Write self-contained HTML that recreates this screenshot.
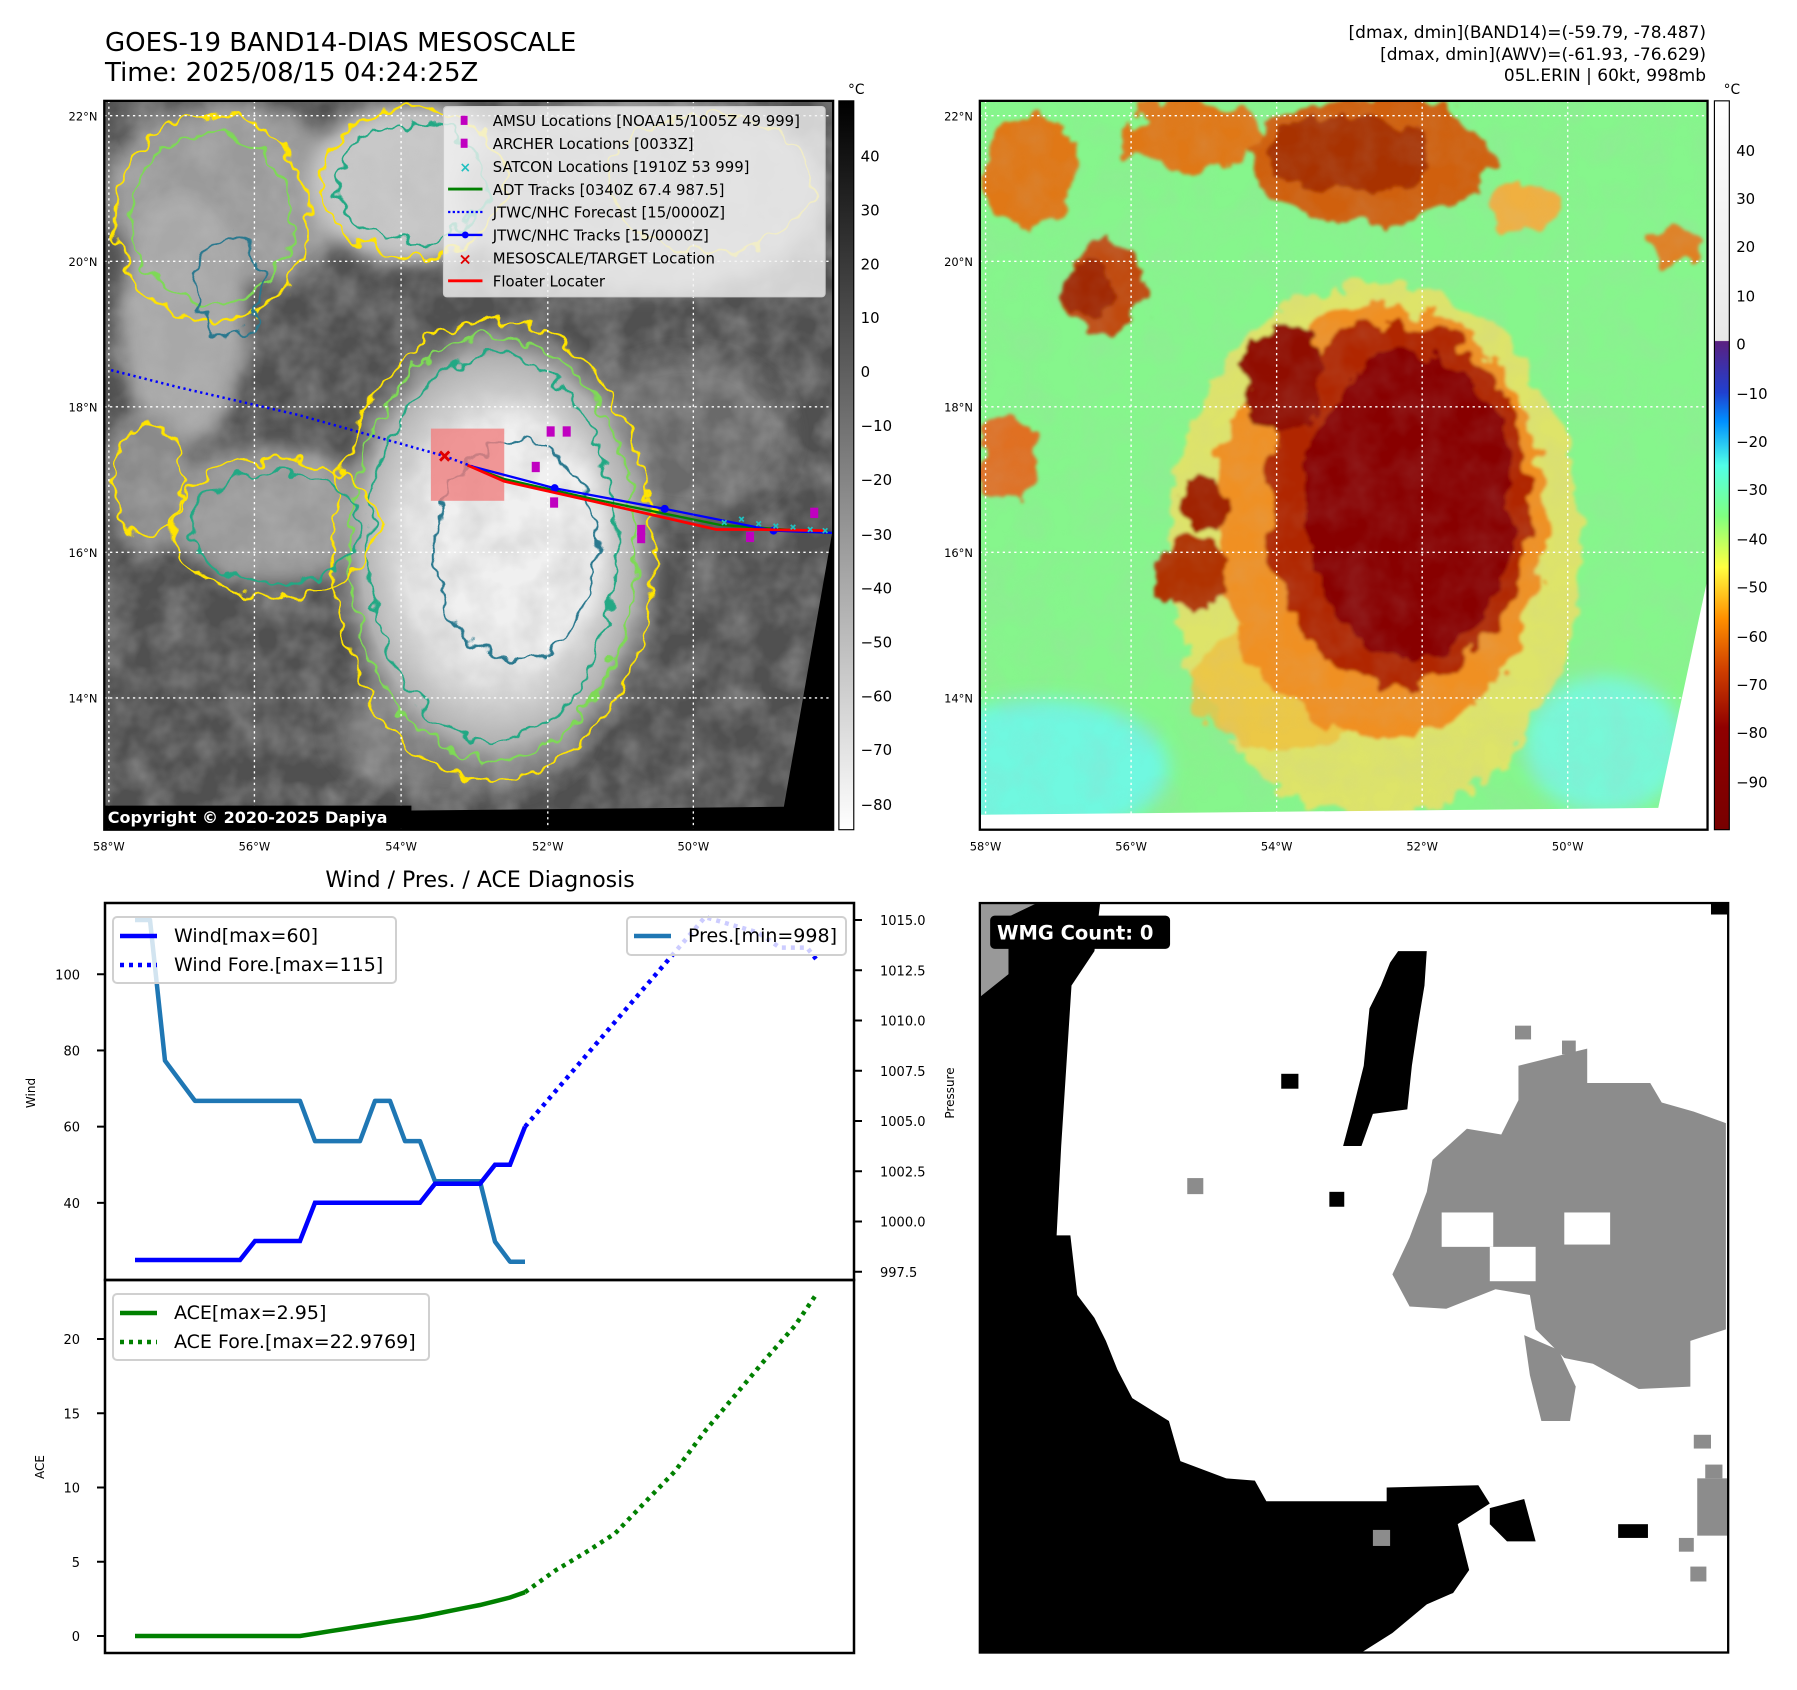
<!DOCTYPE html>
<html><head><meta charset="utf-8">
<style>
html,body{margin:0;padding:0;background:#fff;}
#root{position:relative;width:1797px;height:1690px;overflow:hidden;font-family:"Liberation Sans","DejaVu Sans",sans-serif;}
svg text{font-family:"DejaVu Sans","Liberation Sans",sans-serif;}
</style></head>
<body>
<div id="root">
<svg id="fig" width="1797" height="1690" viewBox="0 0 1797 1690" xmlns="http://www.w3.org/2000/svg">
<defs>
  <filter id="noise" x="0" y="0" width="100%" height="100%">
    <feTurbulence type="fractalNoise" baseFrequency="0.035" numOctaves="3" seed="4"/>
    <feColorMatrix type="matrix" values="0 0 0 0 0.5  0 0 0 0 0.5  0 0 0 0 0.5  1.4 0 0 0 -0.45"/>
  </filter>
  <filter id="blur8"><feGaussianBlur stdDeviation="8"/></filter>
  <filter id="wig" x="-10%" y="-10%" width="120%" height="120%">
    <feTurbulence type="fractalNoise" baseFrequency="0.06" numOctaves="2" seed="7" result="t"/>
    <feDisplacementMap in="SourceGraphic" in2="t" scale="22" xChannelSelector="R" yChannelSelector="G"/>
  </filter>
  <filter id="wig2" x="-10%" y="-10%" width="120%" height="120%">
    <feTurbulence type="fractalNoise" baseFrequency="0.04" numOctaves="3" seed="2" result="t"/>
    <feDisplacementMap in="SourceGraphic" in2="t" scale="30" xChannelSelector="R" yChannelSelector="G"/>
    <feGaussianBlur stdDeviation="1.5"/>
  </filter>
  <clipPath id="clipL"><rect x="91" y="88" width="636" height="636"/></clipPath>
  <clipPath id="clipR"><rect x="855" y="88" width="635" height="636"/></clipPath>
  <clipPath id="clipW"><rect x="855" y="788" width="653" height="654"/></clipPath>
  <linearGradient id="cbL" x1="0" y1="0" x2="0" y2="1">
    <stop offset="0" stop-color="#000"/><stop offset="1" stop-color="#fff"/>
  </linearGradient>
  <linearGradient id="cbR" x1="0" y1="0" x2="0" y2="1">
    <stop offset="0" stop-color="#ffffff"/>
    <stop offset="0.329" stop-color="#e8e8e8"/>
    <stop offset="0.33" stop-color="#5a2080"/>
    <stop offset="0.40" stop-color="#2040d0"/>
    <stop offset="0.44" stop-color="#0090ff"/>
    <stop offset="0.50" stop-color="#50ffe8"/>
    <stop offset="0.57" stop-color="#80ff80"/>
    <stop offset="0.64" stop-color="#ffff40"/>
    <stop offset="0.71" stop-color="#ff9000"/>
    <stop offset="0.78" stop-color="#d04000"/>
    <stop offset="0.86" stop-color="#900000"/>
    <stop offset="1" stop-color="#780000"/>
  </linearGradient>
  <radialGradient id="stormL" cx="0.5" cy="0.5" r="0.5">
    <stop offset="0" stop-color="#f6f6f6"/>
    <stop offset="0.55" stop-color="#e4e4e4"/>
    <stop offset="0.8" stop-color="#b0b0b0"/>
    <stop offset="1" stop-color="#808080" stop-opacity="0"/>
  </radialGradient>
</defs>

<text x="105" y="51" font-size="26" fill="#000">GOES-19 BAND14-DIAS MESOSCALE</text>
<text x="105" y="81" font-size="26" fill="#000">Time: 2025/08/15 04:24:25Z</text>
<g font-size="17" text-anchor="end" fill="#000">
  <text x="1706" y="38">[dmax, dmin](BAND14)=(-59.79, -78.487)</text>
  <text x="1706" y="60">[dmax, dmin](AWV)=(-61.93, -76.629)</text>
  <text x="1706" y="81">05L.ERIN | 60kt, 998mb</text>
</g>

<g transform="scale(1.146)">
 <g clip-path="url(#clipL)">
  <rect x="91" y="88" width="636" height="636" fill="#505050"/>
  <g filter="url(#blur8)">
   <ellipse cx="200" cy="170" rx="110" ry="80" fill="#9a9a9a"/>
   <ellipse cx="160" cy="280" rx="55" ry="110" fill="#a8a8a8"/>
   <ellipse cx="360" cy="160" rx="90" ry="70" fill="#c8c8c8"/>
   <ellipse cx="560" cy="170" rx="160" ry="85" fill="#9c9c9c"/>
   <ellipse cx="240" cy="450" rx="90" ry="60" fill="#9a9a9a"/>
   <ellipse cx="130" cy="420" rx="40" ry="60" fill="#8a8a8a"/>
   <ellipse cx="600" cy="380" rx="90" ry="70" fill="#6a6a6a"/>
   <ellipse cx="400" cy="640" rx="110" ry="55" fill="#747474"/>
  </g>
  <ellipse cx="435" cy="480" rx="150" ry="210" fill="url(#stormL)"/>
  <ellipse cx="450" cy="470" rx="75" ry="110" fill="#f0f0f0" filter="url(#blur8)"/>
  <rect x="91" y="88" width="636" height="636" filter="url(#noise)" opacity="0.55"/>
  <g fill="none" stroke-width="2.2" filter="url(#wig)">
   <ellipse cx="430" cy="480" rx="140" ry="200" stroke="#ffe400"/>
   <ellipse cx="430" cy="478" rx="125" ry="185" stroke="#7ed957"/>
   <ellipse cx="430" cy="478" rx="108" ry="168" stroke="#22a884"/>
   <ellipse cx="450" cy="480" rx="70" ry="95" stroke="#2a788e"/>
   <ellipse cx="185" cy="190" rx="85" ry="90" stroke="#ffe400"/>
   <ellipse cx="185" cy="190" rx="70" ry="75" stroke="#7ed957"/>
   <ellipse cx="200" cy="250" rx="28" ry="45" stroke="#2a788e"/>
   <ellipse cx="360" cy="160" rx="80" ry="65" stroke="#ffe400"/>
   <ellipse cx="360" cy="160" rx="65" ry="52" stroke="#22a884"/>
   <ellipse cx="240" cy="460" rx="90" ry="60" stroke="#ffe400"/>
   <ellipse cx="240" cy="460" rx="75" ry="48" stroke="#22a884"/>
   <ellipse cx="130" cy="420" rx="30" ry="50" stroke="#ffe400"/>
   <ellipse cx="620" cy="160" rx="90" ry="60" stroke="#ffe400" opacity="0.8"/>
  </g>
  <polygon points="727,460 727,724 91,724 91,710 684,704" fill="#000"/>
  <g stroke="#fff" stroke-width="1.2" stroke-dasharray="2,3" fill="none">
   <line x1="95" y1="88" x2="95" y2="724"/><line x1="222" y1="88" x2="222" y2="724"/>
   <line x1="350" y1="88" x2="350" y2="724"/><line x1="478" y1="88" x2="478" y2="724"/>
   <line x1="605" y1="88" x2="605" y2="724"/>
   <line x1="91" y1="101" x2="727" y2="101"/><line x1="91" y1="228" x2="727" y2="228"/>
   <line x1="91" y1="355" x2="727" y2="355"/><line x1="91" y1="482" x2="727" y2="482"/>
   <line x1="91" y1="609" x2="727" y2="609"/>
  </g>
  <rect x="376" y="374" width="64" height="63" fill="#f08080" opacity="0.8"/>
  <polyline points="97,323 156,338 260,362 388,398 420,410" fill="none" stroke="#0000ff" stroke-width="2.2" stroke-dasharray="2,3"/>
  <polyline points="408,406 440,418 520,436 628,458 727,465" fill="none" stroke="#008000" stroke-width="2"/>
  <polyline points="408,406 484,426 580,444 675,463 727,465" fill="none" stroke="#0000ff" stroke-width="2"/>
  <g fill="#0000ff"><circle cx="484" cy="426" r="3.5"/><circle cx="580" cy="444" r="3.5"/><circle cx="675" cy="463" r="3.5"/></g>
  <polyline points="408,406 440,420 520,438 625,462 660,462 720,463" fill="none" stroke="#ff0000" stroke-width="2.4"/>
  <g stroke="#20c0c0" stroke-width="1.5">
   <path d="M630,454 l4,4 m0,-4 l-4,4 M645,451 l4,4 m0,-4 l-4,4 M660,455 l4,4 m0,-4 l-4,4 M675,457 l4,4 m0,-4 l-4,4 M690,458 l4,4 m0,-4 l-4,4 M705,460 l4,4 m0,-4 l-4,4 M718,461 l4,4 m0,-4 l-4,4"/>
  </g>
  <g fill="#c000c0">
   <rect x="477" y="372" width="7" height="9"/><rect x="491" y="372" width="7" height="9"/>
   <rect x="464" y="403" width="7" height="9"/><rect x="480" y="434" width="7" height="9"/>
   <rect x="556" y="458" width="7" height="9"/><rect x="556" y="465" width="7" height="9"/>
   <rect x="651" y="464" width="7" height="9"/><rect x="707" y="443" width="7" height="9"/>
  </g>
  <path d="M384,394 l8,8 m0,-8 l-8,8" stroke="#e00000" stroke-width="2.5"/>
 </g>
 <rect x="91" y="88" width="636" height="636" fill="none" stroke="#000" stroke-width="2"/>
 <g>
  <rect x="387" y="93" width="333" height="166" rx="3" fill="#f2f2f2" fill-opacity="0.8" stroke="#ccc"/>
  <g font-size="13" fill="#000">
   <rect x="402" y="101" width="6" height="8" fill="#c000c0"/><text x="430" y="110">AMSU Locations [NOAA15/1005Z 49 999]</text>
   <rect x="402" y="121" width="6" height="8" fill="#c000c0"/><text x="430" y="130">ARCHER Locations [0033Z]</text>
   <text x="401" y="150" fill="#20c0c0" font-size="12" font-weight="bold">×</text><text x="430" y="150">SATCON Locations [1910Z 53 999]</text>
   <line x1="391" y1="165" x2="421" y2="165" stroke="#008000" stroke-width="2.5"/><text x="430" y="170">ADT Tracks [0340Z 67.4 987.5]</text>
   <line x1="391" y1="185" x2="421" y2="185" stroke="#0000ff" stroke-width="2" stroke-dasharray="2,2"/><text x="430" y="190">JTWC/NHC Forecast [15/0000Z]</text>
   <line x1="391" y1="205" x2="421" y2="205" stroke="#0000ff" stroke-width="2"/><circle cx="406" cy="205" r="3" fill="#0000ff"/><text x="430" y="210">JTWC/NHC Tracks [15/0000Z]</text>
   <text x="400" y="231" fill="#e00000" font-size="14" font-weight="bold">×</text><text x="430" y="230">MESOSCALE/TARGET Location</text>
   <line x1="391" y1="245" x2="421" y2="245" stroke="#ff0000" stroke-width="2.5"/><text x="430" y="250">Floater Locater</text>
  </g>
 </g>
 <rect x="91" y="703" width="268" height="20" fill="#000"/>
 <text x="94" y="718" font-size="14" font-weight="bold" fill="#fff">Copyright © 2020-2025 Dapiya</text>
 <rect x="732" y="88" width="13" height="636" fill="url(#cbL)" stroke="#000" stroke-width="1"/>
 <text x="740" y="82" font-size="12">°C</text>
 <g font-size="13" fill="#000">
  <text x="751" y="141">40</text><text x="751" y="188">30</text><text x="751" y="235">20</text><text x="751" y="282">10</text>
  <text x="751" y="329">0</text><text x="751" y="376">−10</text><text x="751" y="423">−20</text><text x="751" y="471">−30</text>
  <text x="751" y="518">−40</text><text x="751" y="565">−50</text><text x="751" y="612">−60</text><text x="751" y="659">−70</text><text x="751" y="707">−80</text>
 </g>
 <g font-size="10" fill="#000" text-anchor="end">
  <text x="85" y="105">22°N</text><text x="85" y="232">20°N</text><text x="85" y="359">18°N</text><text x="85" y="486">16°N</text><text x="85" y="613">14°N</text>
 </g>
 <g font-size="10" fill="#000" text-anchor="middle">
  <text x="95" y="742">58°W</text><text x="222" y="742">56°W</text><text x="350" y="742">54°W</text><text x="478" y="742">52°W</text><text x="605" y="742">50°W</text>
 </g>

 <g clip-path="url(#clipR)">
  <rect x="855" y="88" width="635" height="636" fill="#86f68c"/>
  <g filter="url(#blur8)">
   <ellipse cx="910" cy="670" rx="110" ry="60" fill="#70f8e0"/>
   <ellipse cx="1400" cy="650" rx="70" ry="60" fill="#78f8d8"/>
  </g>
  <g filter="url(#wig2)">
   <ellipse cx="1200" cy="480" rx="180" ry="235" fill="#f4e060" opacity="0.8"/>
   <ellipse cx="1120" cy="600" rx="80" ry="55" fill="#f0c040" opacity="0.8"/>
   <ellipse cx="1205" cy="455" rx="145" ry="190" fill="#f09020"/>
   <ellipse cx="1220" cy="440" rx="115" ry="160" fill="#b02800"/>
   <ellipse cx="1230" cy="440" rx="90" ry="135" fill="#880000"/>
   <ellipse cx="1120" cy="330" rx="35" ry="45" fill="#900800"/>
   <ellipse cx="1195" cy="140" rx="105" ry="55" fill="#d06010"/>
   <ellipse cx="1180" cy="135" rx="70" ry="35" fill="#a83000"/>
   <ellipse cx="1040" cy="120" rx="60" ry="30" fill="#e07818"/>
   <ellipse cx="900" cy="150" rx="40" ry="50" fill="#e07818"/>
   <ellipse cx="965" cy="250" rx="35" ry="45" fill="#c04808"/>
   <ellipse cx="950" cy="250" rx="20" ry="25" fill="#a02800"/>
   <ellipse cx="1040" cy="500" rx="30" ry="30" fill="#b03000"/>
   <ellipse cx="1050" cy="440" rx="20" ry="25" fill="#a02000"/>
   <ellipse cx="1330" cy="180" rx="30" ry="22" fill="#f0b040"/>
   <ellipse cx="1460" cy="215" rx="20" ry="15" fill="#e08020"/>
   <ellipse cx="880" cy="400" rx="25" ry="40" fill="#e07020"/>
  </g>
  <rect x="855" y="88" width="635" height="636" filter="url(#noise)" opacity="0.18"/>
  <polygon points="1490,505 1490,724 855,724 855,711 1447,705" fill="#fff"/>
  <g stroke="#fff" stroke-width="1.2" stroke-dasharray="2,3" fill="none">
   <line x1="860" y1="88" x2="860" y2="724"/><line x1="987" y1="88" x2="987" y2="724"/>
   <line x1="1114" y1="88" x2="1114" y2="724"/><line x1="1241" y1="88" x2="1241" y2="724"/>
   <line x1="1368" y1="88" x2="1368" y2="724"/>
   <line x1="855" y1="101" x2="1490" y2="101"/><line x1="855" y1="228" x2="1490" y2="228"/>
   <line x1="855" y1="355" x2="1490" y2="355"/><line x1="855" y1="482" x2="1490" y2="482"/>
   <line x1="855" y1="609" x2="1490" y2="609"/>
  </g>
 </g>
 <rect x="855" y="88" width="635" height="636" fill="none" stroke="#000" stroke-width="2"/>
 <rect x="1496" y="88" width="13" height="636" fill="url(#cbR)" stroke="#000" stroke-width="1"/>
 <text x="1504" y="82" font-size="12">°C</text>
 <g font-size="13" fill="#000">
  <text x="1515" y="136">40</text><text x="1515" y="178">30</text><text x="1515" y="220">20</text><text x="1515" y="263">10</text>
  <text x="1515" y="305">0</text><text x="1515" y="348">−10</text><text x="1515" y="390">−20</text><text x="1515" y="432">−30</text>
  <text x="1515" y="475">−40</text><text x="1515" y="517">−50</text><text x="1515" y="560">−60</text><text x="1515" y="602">−70</text>
  <text x="1515" y="644">−80</text><text x="1515" y="687">−90</text>
 </g>
 <g font-size="10" fill="#000" text-anchor="end">
  <text x="849" y="105">22°N</text><text x="849" y="232">20°N</text><text x="849" y="359">18°N</text><text x="849" y="486">16°N</text><text x="849" y="613">14°N</text>
 </g>
 <g font-size="10" fill="#000" text-anchor="middle">
  <text x="860" y="742">58°W</text><text x="987" y="742">56°W</text><text x="1114" y="742">54°W</text><text x="1241" y="742">52°W</text><text x="1368" y="742">50°W</text>
 </g>

 <g clip-path="url(#clipW)">
  <rect x="855" y="788" width="653" height="654" fill="#fff"/>
  <polygon points="855,788 905,788 880,850 855,870" fill="#999"/>
  <polygon points="905,788 960,788 955,830 935,860 926,1000 922,1078 934,1078 940,1130 955,1150 965,1170 975,1195 988,1220 1020,1240 1030,1275 1070,1290 1095,1292 1105,1310 1210,1310 1210,1298 1290,1296 1300,1312 1272,1330 1282,1370 1268,1390 1245,1400 1215,1425 1188,1442 855,1442 855,870 880,850 880,800" fill="#000"/>
  <polygon points="1220,830 1245,830 1243,860 1238,890 1232,930 1228,968 1198,972 1188,1000 1172,1000 1180,970 1190,930 1195,880 1205,860 1213,840" fill="#000"/>
  <rect x="1118" y="937" width="15" height="13" fill="#000"/><rect x="1160" y="1040" width="13" height="13" fill="#000"/>
  <rect x="1412" y="1330" width="26" height="12" fill="#000"/>
  <polygon points="1300,1316 1330,1308 1340,1345 1315,1345 1300,1330" fill="#000"/>
  <rect x="1493" y="788" width="15" height="10" fill="#000"/>
  <polygon fill="#8c8c8c" points="1325,930 1385,915 1385,945 1440,945 1450,962 1478,970 1506,980 1506,1160 1475,1170 1475,1210 1430,1212 1390,1190 1365,1185 1340,1160 1335,1130 1305,1125 1262,1142 1230,1140 1215,1112 1230,1080 1245,1040 1250,1012 1280,985 1310,990 1325,960"/>
  <rect x="1365" y="1058" width="40" height="28" fill="#fff"/>
  <rect x="1258" y="1058" width="45" height="30" fill="#fff"/>
  <rect x="1300" y="1088" width="40" height="30" fill="#fff"/>
  <polygon fill="#8c8c8c" points="1330,1165 1360,1178 1375,1210 1370,1240 1345,1240 1335,1200"/>
  <rect x="1322" y="895" width="14" height="12" fill="#8c8c8c"/><rect x="1363" y="908" width="12" height="12" fill="#8c8c8c"/>
  <rect x="1036" y="1028" width="14" height="14" fill="#8c8c8c"/><rect x="1198" y="1335" width="15" height="14" fill="#8c8c8c"/>
  <rect x="1481" y="1290" width="27" height="50" fill="#8c8c8c"/><rect x="1478" y="1252" width="15" height="12" fill="#8c8c8c"/>
  <rect x="1488" y="1278" width="15" height="12" fill="#8c8c8c"/><rect x="1465" y="1342" width="13" height="12" fill="#8c8c8c"/>
  <rect x="1475" y="1367" width="14" height="13" fill="#8c8c8c"/>
 </g>
 <rect x="855" y="788" width="653" height="654" fill="none" stroke="#000" stroke-width="2"/>
 <rect x="864" y="799" width="157" height="29" rx="4" fill="#000"/>
 <text x="870" y="820" font-size="17" font-weight="bold" fill="#fff">WMG Count: 0</text>
</g>

<text x="480" y="887" font-size="22" text-anchor="middle">Wind / Pres. / ACE Diagnosis</text>
<g id="charts"></g>
</svg>
</div>
<script>
// ---- data ----
const histIndex = [0,1,2,3,4,5,6,7,8,9,10,11,12,13,14,15,16,17,18,19,20,21,22,23,24,25,26];
const windHist = [25,25,25,25,25,25,25,25,30,30,30,30,40,40,40,40,40,40,40,40,45,45,45,45,50,50,60];
const presHist = [1015,1015,1008,1007,1006,1006,1006,1006,1006,1006,1006,1006,1004,1004,1004,1004,1006,1006,1004,1004,1002,1002,1002,1002,999,998,998];
const aceHist = [0,0,0,0,0,0,0,0,0,0,0,0,0.16,0.32,0.48,0.64,0.80,0.96,1.12,1.28,1.48,1.69,1.89,2.09,2.34,2.59,2.95];
const foreWindIndex = [26,38,41.5,43,44.8,45.4];
const windFore = [60,115,111,107,107,104];
const foreAceIndex = [26,28,30,32,34,36,38,40,42,44,45.4];
const aceFore = [2.95,4.4,5.6,6.9,9.0,11.1,13.8,16.2,18.6,20.9,22.98];
const windTicks = [40,60,80,100];
const presTicks = [997.5,1000.0,1002.5,1005.0,1007.5,1010.0,1012.5,1015.0];
const aceTicks = [0,5,10,15,20];

const NS = 'http://www.w3.org/2000/svg';
const g = document.getElementById('charts');
const xS = i => 135 + i * 15.0;
const yWind = v => 1260 - (v - 25) * 3.81;
const yPres = p => 920 + (1015 - p) * 20.1;
const yAce = a => 1636 - a * 14.85;
function mk(tag, attrs, parent) {
  const e = document.createElementNS(NS, tag);
  for (const k in attrs) e.setAttribute(k, attrs[k]);
  (parent || g).appendChild(e);
  return e;
}
function pts(xs, ys, fy) { return xs.map((x, k) => xS(x).toFixed(1) + ',' + fy(ys[k]).toFixed(1)).join(' '); }

let f1 = mk('rect', {x:105, y:903, width:749, height:377, fill:'none', stroke:'#000', 'stroke-width':2.5});


let f2 = mk('rect', {x:105, y:1280, width:749, height:373, fill:'none', stroke:'#000', 'stroke-width':2.5});



let pl = mk('polyline', {points: pts(histIndex, presHist, yPres), fill:'none', stroke:'#1f77b4', 'stroke-width':4.5, 'stroke-linejoin':'round'});


let wl = mk('polyline', {points: pts(histIndex, windHist, yWind), fill:'none', stroke:'#0000ff', 'stroke-width':4.5});


let wf = mk('polyline', {points: pts(foreWindIndex, windFore, yWind), fill:'none', stroke:'#0000ff', 'stroke-width':4.5, 'stroke-dasharray':'4,5'});


let al = mk('polyline', {points: pts(histIndex, aceHist, yAce), fill:'none', stroke:'#008000', 'stroke-width':4.5});


let af = mk('polyline', {points: pts(foreAceIndex, aceFore, yAce), fill:'none', stroke:'#008000', 'stroke-width':4.5, 'stroke-dasharray':'4,5'});



windTicks.forEach(v => {
  mk('line', {x1:97, x2:105, y1:yWind(v), y2:yWind(v), stroke:'#000', 'stroke-width':2});
  let t = mk('text', {x:80, y:yWind(v)+5, 'font-size':13, 'text-anchor':'end'});
  t.textContent = v;
  
  
});
presTicks.forEach(p => {
  mk('line', {x1:854, x2:862, y1:yPres(p), y2:yPres(p), stroke:'#000', 'stroke-width':2});
  let t = mk('text', {x:880, y:yPres(p)+5, 'font-size':13});
  t.textContent = p.toFixed(1);
  
  
});
aceTicks.forEach(a => {
  mk('line', {x1:97, x2:105, y1:yAce(a), y2:yAce(a), stroke:'#000', 'stroke-width':2});
  let t = mk('text', {x:80, y:yAce(a)+5, 'font-size':13, 'text-anchor':'end'});
  t.textContent = a;
  
  
});
let yl1 = mk('text', {x:0, y:0, 'font-size':12, 'text-anchor':'middle', transform:'translate(35,1093) rotate(-90)'});
yl1.textContent = 'Wind';


let yl2 = mk('text', {x:0, y:0, 'font-size':12, 'text-anchor':'middle', transform:'translate(954,1093) rotate(-90)'});
yl2.textContent = 'Pressure';


let yl3 = mk('text', {x:0, y:0, 'font-size':12, 'text-anchor':'middle', transform:'translate(44,1467) rotate(-90)'});
yl3.textContent = 'ACE';



function legend(x, y, w, h, items, name) {
  const lg = mk('g', {});
  
  
  mk('rect', {x:x, y:y, width:w, height:h, rx:4, fill:'#fff', 'fill-opacity':0.8, stroke:'#d0d0d0', 'stroke-width':2}, lg);
  items.forEach((it, k) => {
    const cy = y + 19 + k * 29;
    const ln = {x1:x+7, x2:x+44, y1:cy, y2:cy, stroke:it.c, 'stroke-width':4.5};
    if (it.d) ln['stroke-dasharray'] = '4,5';
    mk('line', ln, lg);
    const t = mk('text', {x:x+61, y:cy+6, 'font-size':19}, lg);
    t.textContent = it.t;
  });
}
legend(113, 917, 283, 66, [{c:'#0000ff', t:'Wind[max=60]'}, {c:'#0000ff', t:'Wind Fore.[max=115]', d:1}], 'wind-legend');
legend(627, 917, 219, 38, [{c:'#1f77b4', t:'Pres.[min=998]'}], 'pressure-legend');
legend(113, 1294, 316, 66, [{c:'#008000', t:'ACE[max=2.95]'}, {c:'#008000', t:'ACE Fore.[max=22.9769]', d:1}], 'ace-legend');
</script>
</body></html>
